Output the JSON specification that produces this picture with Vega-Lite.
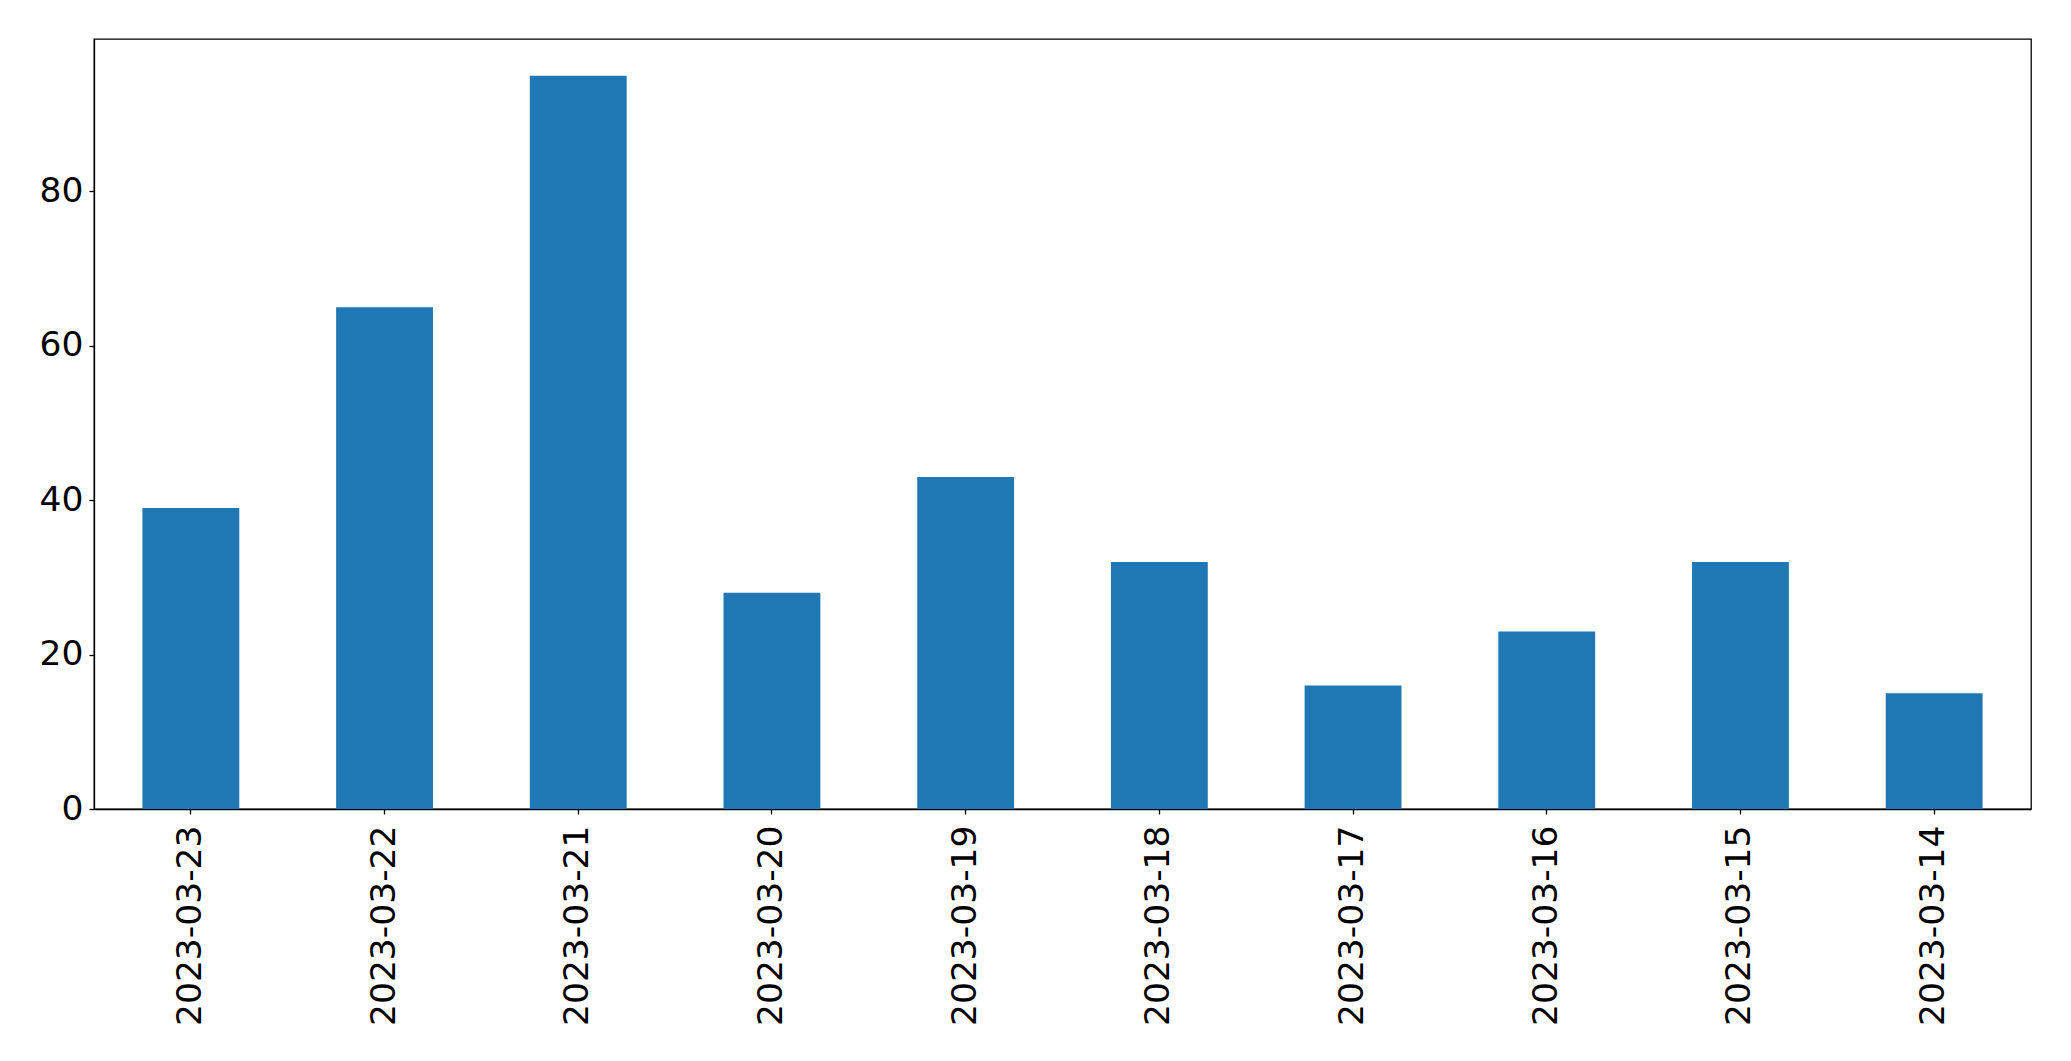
{
  "$schema": "https://vega.github.io/schema/vega-lite/v6.json",
  "autosize": {"type": "none"},
  "padding": {"left": 94, "top": 39, "right": 40, "bottom": 252},
  "width": 1937,
  "height": 770,
  "background": "white",
  "config": {
    "view": {"stroke": "black", "strokeWidth": 1.3},
    "axis": {
      "labelFont": "DejaVu Sans",
      "labelFontSize": 34.5,
      "labelColor": "black",
      "labelLimit": 0,
      "domainColor": "black",
      "domainWidth": 1.3,
      "tickColor": "black",
      "tickWidth": 1.3,
      "tickSize": 5,
      "grid": false,
      "title": null
    }
  },
  "data": {
    "values": [
      {"date": "2023-03-23", "count": 39},
      {"date": "2023-03-22", "count": 65},
      {"date": "2023-03-21", "count": 95},
      {"date": "2023-03-20", "count": 28},
      {"date": "2023-03-19", "count": 43},
      {"date": "2023-03-18", "count": 32},
      {"date": "2023-03-17", "count": 16},
      {"date": "2023-03-16", "count": 23},
      {"date": "2023-03-15", "count": 32},
      {"date": "2023-03-14", "count": 15}
    ]
  },
  "mark": {"type": "bar", "color": "#1f77b4"},
  "encoding": {
    "x": {
      "field": "date",
      "type": "nominal",
      "sort": null,
      "scale": {"paddingInner": 0.5, "paddingOuter": 0.25},
      "axis": {"labelAngle": -90, "labelPadding": 11}
    },
    "y": {
      "field": "count",
      "type": "quantitative",
      "scale": {"domain": [0, 99.75], "nice": false, "zero": true},
      "axis": {"values": [0, 20, 40, 60, 80], "labelPadding": 6}
    }
  }
}
